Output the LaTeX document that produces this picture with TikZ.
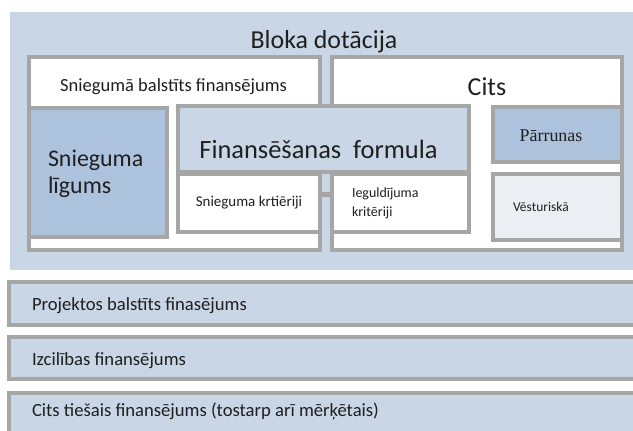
\documentclass[tikz,border=0pt]{standalone}
\usepackage{fontspec}
\setmainfont{Carlito}
\newfontfamily\serifface{Liberation Serif}
\definecolor{outerblue}{HTML}{C9D6E6}
\definecolor{midblue}{HTML}{ADC2DC}
\definecolor{vestfill}{HTML}{EDEEF3}
\definecolor{bordergray}{HTML}{A6A6A6}
\definecolor{txt}{HTML}{1F1F1F}
\tikzset{
  box/.style={draw=bordergray, line width=4bp, inner sep=0pt, outer sep=0pt},
  conn/.style={draw=bordergray, line width=5bp},
  lbl/.style={text=txt, inner sep=0pt, outer sep=0pt},
}
\begin{document}
\begin{tikzpicture}[x=1bp,y=-1bp]
\useasboundingbox (0,0) rectangle (633,430);
\clip (0,0) rectangle (633,430);
% background
\node[fill=outerblue, inner sep=0pt, minimum width=630bp, minimum height=258bp] (outer) at (325,141) {};
% big boxes
\node[box, fill=white, minimum width=291bp, minimum height=193bp] (sneg) at (174.5,153.5) {};
\node[box, fill=white, minimum width=290.5bp, minimum height=193bp] (cits) at (476.75,153.5) {};
% inner boxes
\node[box, fill=midblue, minimum width=138bp, minimum height=128.5bp] (ligums) at (98,172.25) {};
\node[box, fill=outerblue, minimum width=291bp, minimum height=65.5bp] (formula) at (323.5,138.75) {};
\node[box, fill=white, minimum width=142bp, minimum height=58.5bp] (krit1) at (249,202.75) {};
\node[box, fill=white, minimum width=137.5bp, minimum height=58.5bp] (krit2) at (400.25,202.75) {};
\node[box, fill=midblue, minimum width=129bp, minimum height=55bp] (parr) at (557.5,134.5) {};
\node[box, fill=vestfill, minimum width=129bp, minimum height=66.5bp] (vest) at (557.5,206.75) {};
\draw[conn] ([yshift=8.25bp]krit1.east) -- ([yshift=8.25bp]krit2.west);
% bars
\node[box, fill=outerblue, minimum width=640.5bp, minimum height=42.5bp] (bar1) at (329.75,303.25) {};
\node[box, fill=outerblue, minimum width=640.5bp, minimum height=42.5bp] (bar2) at (329.75,357.75) {};
\node[box, fill=outerblue, minimum width=640.5bp, minimum height=42.5bp] (bar3) at (329.75,413.75) {};
% texts
\node[lbl, font=\fontsize{26}{30}\selectfont] (tBloka) at (324,42) {Bloka dotācija};
\node[lbl, font=\fontsize{18.6}{23}\selectfont] (tSneg) at (173.5,87) {Sniegumā balstīts finansējums};
\node[lbl, font=\fontsize{26}{30}\selectfont] (tCits) at (487,87) {Cits};
\node[lbl, font=\fontsize{26.5}{30}\selectfont] (tForm) at (318.5,149.5) {Finansēšanas~ formula};
\node[lbl, font=\fontsize{24}{27}\selectfont, align=left, anchor=west] (tLig) at (48,173.5) {Snieguma\\līgums};
\node[lbl, font=\fontsize{15}{18}\selectfont] (tKrit1) at (249,203) {Snieguma krtiēriji};
\node[lbl, font=\fontsize{14}{19}\selectfont, align=left, anchor=west] (tKrit2) at (352,203) {Ieguldījuma\\kritēriji};
\node[lbl, font=\serifface\fontsize{18}{22}\selectfont] (tParr) at (551,135.5) {Pārrunas};
\node[lbl, font=\fontsize{13.5}{16}\selectfont, anchor=west] (tVest) at (513,207) {Vēsturiskā};
\node[lbl, font=\fontsize{18.7}{23}\selectfont, anchor=west] (tBar1) at (32,305.5) {Projektos balstīts finasējums};
\node[lbl, font=\fontsize{18.7}{23}\selectfont, anchor=west] (tBar2) at (32,361) {Izcilības finansējums};
\node[lbl, font=\fontsize{18.7}{23}\selectfont, anchor=west] (tBar3) at (32,411.5) {Cits tiešais finansējums (tostarp arī mērķētais)};
\end{tikzpicture}
\end{document}
